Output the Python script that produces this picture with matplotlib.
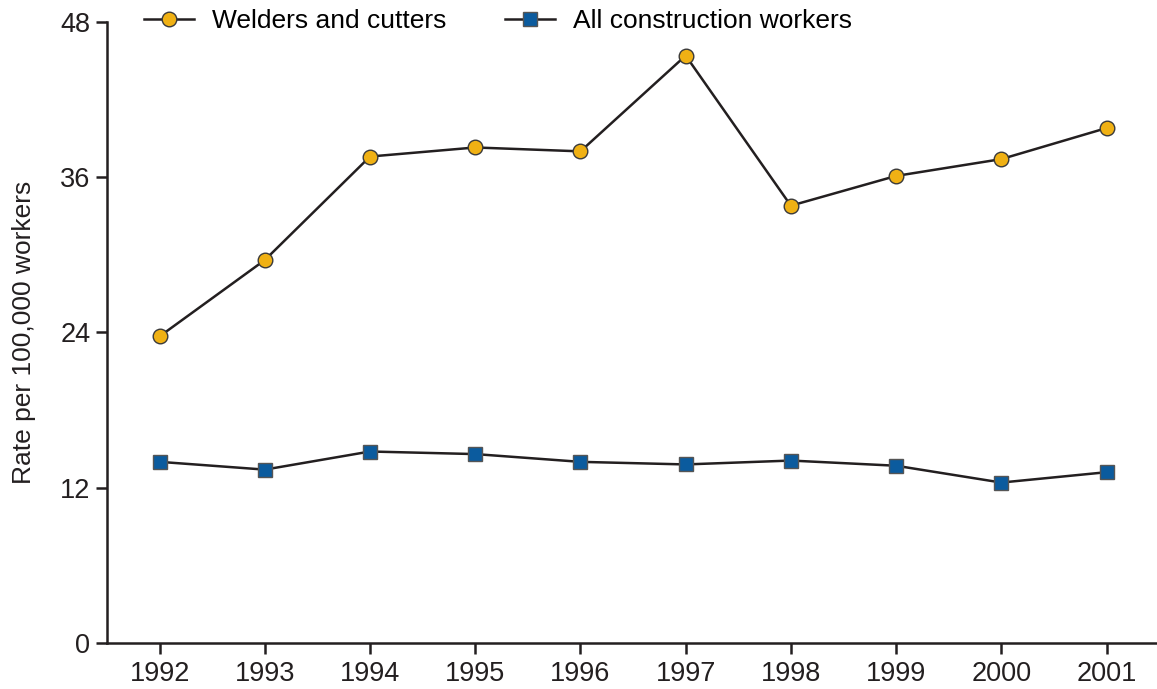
import matplotlib
matplotlib.use("Agg")
import matplotlib.pyplot as plt

years = [1992, 1993, 1994, 1995, 1996, 1997, 1998, 1999, 2000, 2001]
welders = [23.7, 29.6, 37.6, 38.3, 38.0, 45.4, 33.8, 36.1, 37.4, 39.8]
construction = [14.0, 13.4, 14.8, 14.6, 14.0, 13.8, 14.1, 13.7, 12.4, 13.2]
yticks = [0, 12, 24, 36, 48]

plt.rcParams['font.family'] = ['Liberation Sans', 'DejaVu Sans']

fig = plt.figure(figsize=(11.57, 6.89), dpi=100)
ax = fig.add_axes([0.0925, 0.0668, 0.9075, 0.9013])

line_col = '#231F20'
ax.plot(years, welders, color=line_col, lw=1.8, marker='o', ms=10.5,
        mfc='#F0B114', mec='#3a3a3a', mew=1.0, label='Welders and cutters', zorder=3)
ax.plot(years, construction, color=line_col, lw=1.8, marker='s', ms=9.5,
        mfc='#0B5B9E', mec='#555555', mew=1.0, label='All construction workers', zorder=3)

ax.set_xlim(1991.5, 2001.48)
ax.set_ylim(0, 48)
ax.set_xticks(years)
ax.set_yticks(yticks)
for s in ['top', 'right']:
    ax.spines[s].set_visible(False)
for s in ['left', 'bottom']:
    ax.spines[s].set_linewidth(1.8)
    ax.spines[s].set_color(line_col)
ax.tick_params(axis='both', direction='out', length=8, width=1.8, color=line_col,
               labelsize=19.5, labelcolor='#231F20')
ax.tick_params(axis='x', pad=5)
ax.tick_params(axis='y', pad=4)
ax.set_ylabel('Rate per 100,000 workers', fontsize=19, color='#231F20', labelpad=17)

leg = ax.legend(loc='upper left', bbox_to_anchor=(0.025, 1.038), ncol=2, frameon=False,
                fontsize=19, handlelength=1.9, columnspacing=2.2, handletextpad=0.7,
                borderaxespad=0)

fig.savefig('out.png', dpi=100)
